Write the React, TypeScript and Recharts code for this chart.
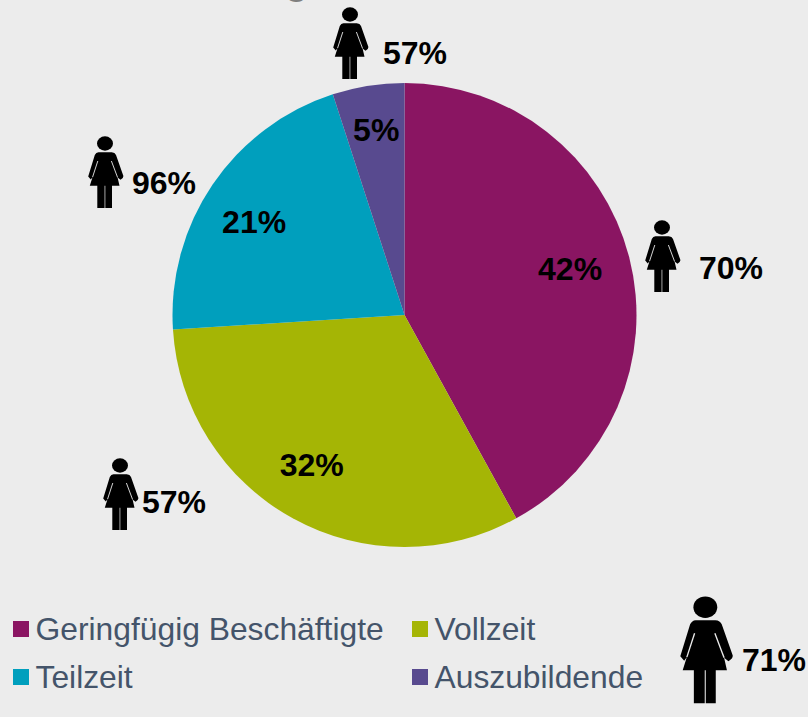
import React from "react";
import { PieChart, Pie, Cell, Legend, Customized } from "recharts";

const CATEGORIES = ["Geringfügig Beschäftigte", "Vollzeit", "Teilzeit", "Auszubildende"];
const SHARES = [42, 32, 21, 5];
const COLORS = ["#8a1562", "#a5b505", "#009fbd", "#584a8f"];
const WOMEN_SHARES = [70, 57, 96, 57];
const WOMEN_TOTAL = 71;

const data = CATEGORIES.map((name, i) => ({ name, value: SHARES[i] }));

const FONT = "'Liberation Sans', Arial, sans-serif";
const BG = "#ececec";
const CX = 404.5;
const CY = 315;
const R = 232;
const LABEL_RADIUS = [172, 176, 177, 187];
const LABEL_NUDGE = [[-1, -3], [-8, -4], [-4, 6], [1, 0]];

// icon x, icon y, icon scale, text x, text y (baseline)
const WOMEN_LAYOUT = [
  [645, 220, 1, 699, 279],
  [103, 458, 1, 142, 513],
  [88, 136, 1, 132, 194],
  [333, 7, 1, 383, 64],
];

function Woman({ x, y, s }: { x: number; y: number; s: number }) {
  return (
    <g transform={`translate(${x} ${y}) scale(${s})`}>
      <ellipse cx={17} cy={7.5} rx={8} ry={7.2} fill="#000" />
      <path
        d="M10.5 16.2 L23.7 16.2 Q27 16.4 28 19 L35.4 40 Q35.6 42 32.5 43.8 L29.6 41.5 L31.5 49.8 L24 49.8 L24 72 L17.3 72 L17.3 49.8 L16.6 49.8 L16.6 72 L9.3 72 L9.3 49.8 L1.8 49.8 L4.6 41 L2.8 43.4 L0.2 40.5 L6.8 19 Q8 16.4 10.5 16.2 Z"
        fill="#000"
      />
      <path d="M9.8 25 L4.6 41" stroke={BG} strokeWidth={0.9} fill="none" />
      <path d="M23.4 25 L29.6 41.5" stroke={BG} strokeWidth={0.9} fill="none" />
    </g>
  );
}

function Overlay() {
  return (
    <g>
      <text x={285} y={-6} fontFamily={FONT} fontWeight={700} fontSize={38} fill="#7f7f7f">g</text>
      {WOMEN_SHARES.map((v, i) => {
        const [x, y, s, tx, ty] = WOMEN_LAYOUT[i];
        return (
          <g key={i}>
            <Woman x={x} y={y} s={s} />
            <text x={tx} y={ty} fontFamily={FONT} fontWeight={700} fontSize={32} fill="#000">{v}%</text>
          </g>
        );
      })}
      <Woman x={680} y={596} s={1.49} />
      <text x={742} y={671} fontFamily={FONT} fontWeight={700} fontSize={32} fill="#000">{WOMEN_TOTAL}%</text>
    </g>
  );
}

function renderLabel(p: any) {
  const a = (p.midAngle * Math.PI) / 180;
  const r = LABEL_RADIUS[p.index];
  const [dx, dy] = LABEL_NUDGE[p.index];
  return (
    <text
      x={p.cx + r * Math.cos(a) + dx}
      y={p.cy - r * Math.sin(a) + dy}
      textAnchor="middle"
      dominantBaseline="central"
      fontFamily={FONT}
      fontWeight={700}
      fontSize={32}
      fill="#000"
    >
      {p.value}%
    </text>
  );
}

function LegendContent() {
  return (
    <div style={{ display: "grid", gridTemplateColumns: "399px 260px", gridAutoRows: "48px", fontFamily: FONT, fontSize: 31.8, color: "#44546a" }}>
      {CATEGORIES.map((name, i) => (
        <div key={name} style={{ display: "flex", alignItems: "center", whiteSpace: "nowrap" }}>
          <span style={{ width: 16, height: 16, background: COLORS[i], marginRight: 6.5, flex: "none" }} />
          {name}
        </div>
      ))}
    </div>
  );
}

export default function App() {
  return (
    <div style={{ position: "absolute", left: 0, top: 0, width: 808, height: 717, background: BG, overflow: "hidden" }}>
      <PieChart width={808} height={717} margin={{ top: 0, right: 0, bottom: 0, left: 0 }}>
        <Pie
          data={data}
          dataKey="value"
          nameKey="name"
          cx={CX}
          cy={CY}
          innerRadius={0}
          outerRadius={R}
          startAngle={90}
          endAngle={-270}
          stroke="none"
          label={renderLabel}
          labelLine={false}
          isAnimationActive={false}
        >
          {data.map((d, i) => (
            <Cell key={d.name} fill={COLORS[i]} />
          ))}
        </Pie>
        <Legend content={<LegendContent />} wrapperStyle={{ position: "absolute", left: 13, top: 605, width: 670, bottom: "auto" }} />
        <Customized component={Overlay} />
      </PieChart>
    </div>
  );
}
